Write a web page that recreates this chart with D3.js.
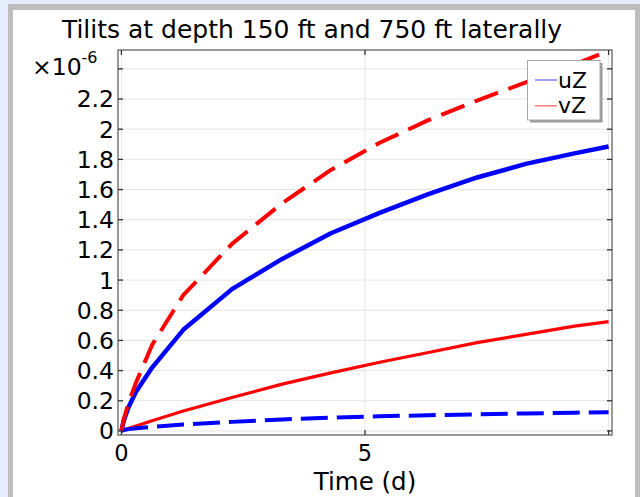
<!DOCTYPE html>
<html><head><meta charset="utf-8">
<script src="https://cdn.jsdelivr.net/npm/d3@7/dist/d3.min.js"></script>
<style>
html,body{margin:0;padding:0;background:#e3edfb;}
svg{display:block;font-family:"DejaVu Sans",sans-serif;}
</style></head>
<body>
<svg id="c" width="640" height="497"></svg>
<script>
// Data (values in units of 1e-6)
const times = [0, 0.05, 0.15, 0.3, 0.63, 1.27, 2.27, 3.3, 4.3, 5.3, 6.3, 7.3, 8.3, 9.3, 10];
const uZ_solid = [0, 0.07, 0.16, 0.26, 0.42, 0.67, 0.94, 1.14, 1.31, 1.445, 1.57, 1.68, 1.77, 1.84, 1.885];
const uZ_dashed = [0, 0.006, 0.012, 0.018, 0.027, 0.042, 0.06, 0.076, 0.088, 0.097, 0.104, 0.11, 0.116, 0.121, 0.124];
const vZ_solid = [0, 0.006, 0.017, 0.033, 0.068, 0.132, 0.222, 0.31, 0.385, 0.455, 0.52, 0.585, 0.64, 0.695, 0.725];
const vZ_dashed = [0, 0.08, 0.19, 0.32, 0.57, 0.90, 1.24, 1.51, 1.73, 1.91, 2.06, 2.19, 2.31, 2.43, 2.52];
const yTicks = [0, 0.2, 0.4, 0.6, 0.8, 1, 1.2, 1.4, 1.6, 1.8, 2, 2.2, 2.4];
const yTickLabels = ["0","0.2","0.4","0.6","0.8","1","1.2","1.4","1.6","1.8","2","2.2",""];
const xTicks = [0, 5, 10];
const xTickLabels = ["0","5",""];
const legendNames = ["uZ","vZ"];
const titleText = "Tilits at depth 150 ft and 750 ft laterally";
const xLabel = "Time (d)";

const svg = d3.select("#c");
// panel background
svg.append("rect").attr("x",8).attr("y",4).attr("width",640).attr("height",600).attr("fill","#bdbdbd");
svg.append("rect").attr("x",13).attr("y",10).attr("width",622).attr("height",600).attr("fill","#ffffff");

const L=118, R=612, T=50, B=435;
const x = d3.scaleLinear().domain([-0.07,10.07]).range([L,R]);
const y = d3.scaleLinear().domain([-0.027,2.525]).range([B,T]);

// grid
const g = svg.append("g");
g.selectAll(".gy").data(yTicks).join("line")
  .attr("x1",L).attr("x2",R).attr("y1",d=>y(d)).attr("y2",d=>y(d))
  .attr("stroke","#e4e4e4").attr("stroke-width",1);
g.selectAll(".gx").data(xTicks).join("line")
  .attr("y1",T).attr("y2",B).attr("x1",d=>x(d)).attr("x2",d=>x(d))
  .attr("stroke","#e4e4e4").attr("stroke-width",1);

// clip
svg.append("clipPath").attr("id","clip").append("rect").attr("x",L).attr("y",T).attr("width",R-L).attr("height",B-T);

const line = d3.line().x((d,i)=>x(times[i])).y(d=>y(d));
const series = [
  {v:vZ_solid, c:"#ff0000", w:3.2, dash:null},
  {v:uZ_dashed, c:"#0000ff", w:4, dash:"27,9"},
  {v:uZ_solid, c:"#0000ff", w:4.5, dash:null},
  {v:vZ_dashed, c:"#ff0000", w:4, dash:"25,11"}
];
const lg = svg.append("g").attr("clip-path","url(#clip)");
series.forEach(s=>{
  lg.append("path").attr("d",line(s.v)).attr("fill","none")
    .attr("stroke",s.c).attr("stroke-width",s.w)
    .attr("stroke-dasharray",s.dash).attr("stroke-linejoin","round");
});

// frame
svg.append("rect").attr("x",L).attr("y",T).attr("width",R-L).attr("height",B-T)
  .attr("fill","none").attr("stroke","#7f7f7f").attr("stroke-width",1.6);

// ticks (inside, both sides)
const tk = svg.append("g").attr("stroke","#333").attr("stroke-width",1.3);
yTicks.forEach(d=>{
  tk.append("line").attr("x1",L).attr("x2",L+5).attr("y1",y(d)).attr("y2",y(d));
  tk.append("line").attr("x1",R).attr("x2",R-5).attr("y1",y(d)).attr("y2",y(d));
});
xTicks.forEach(d=>{
  tk.append("line").attr("y1",B).attr("y2",B-5).attr("x1",x(d)).attr("x2",x(d));
  tk.append("line").attr("y1",T).attr("y2",T+5).attr("x1",x(d)).attr("x2",x(d));
});

// tick labels
svg.append("g").selectAll("text").data(yTicks).join("text")
  .attr("x",L-4).attr("y",d=>y(d)).attr("dy","0.36em")
  .attr("text-anchor","end").attr("font-size",23.5).attr("fill","#000")
  .text((d,i)=>yTickLabels[i]);
svg.append("g").selectAll("text").data(xTicks).join("text")
  .attr("x",d=>x(d)).attr("y",461)
  .attr("text-anchor","middle").attr("font-size",22.5).attr("fill","#000")
  .text((d,i)=>xTickLabels[i]);

// exponent
const ex = svg.append("text").attr("x",32).attr("y",75).attr("font-size",23.5).attr("fill","#000");
ex.append("tspan").text("\u00d710");
ex.append("tspan").attr("font-size",16).attr("dy",-12).text("-6");

// title & axis label
svg.append("text").attr("x",312).attr("y",38).attr("text-anchor","middle")
  .attr("font-size",25).attr("fill","#000").text(titleText);
svg.append("text").attr("x",365).attr("y",490).attr("text-anchor","middle")
  .attr("font-size",24.5).attr("fill","#000").text(xLabel);

// legend
const legG = svg.append("g");
legG.append("rect").attr("x",530).attr("y",63).attr("width",72.5).attr("height",59.5).attr("fill","#9a9a9a");
legG.append("rect").attr("x",527.5).attr("y",60.5).attr("width",72.5).attr("height",59.5)
  .attr("fill","#fff").attr("stroke","#a8a8a8").attr("stroke-width",1);
const legColors = ["#7f7fff","#ff7f7f"];
legendNames.forEach((n,i)=>{
  const yy = 80 + i*25.8;
  legG.append("line").attr("x1",535).attr("x2",557).attr("y1",yy).attr("y2",yy)
    .attr("stroke",legColors[i]).attr("stroke-width",1.5);
  legG.append("text").attr("x",558).attr("y",yy+7.5).attr("font-size",22).attr("fill","#000").text(n);
});
</script>
</body></html>
